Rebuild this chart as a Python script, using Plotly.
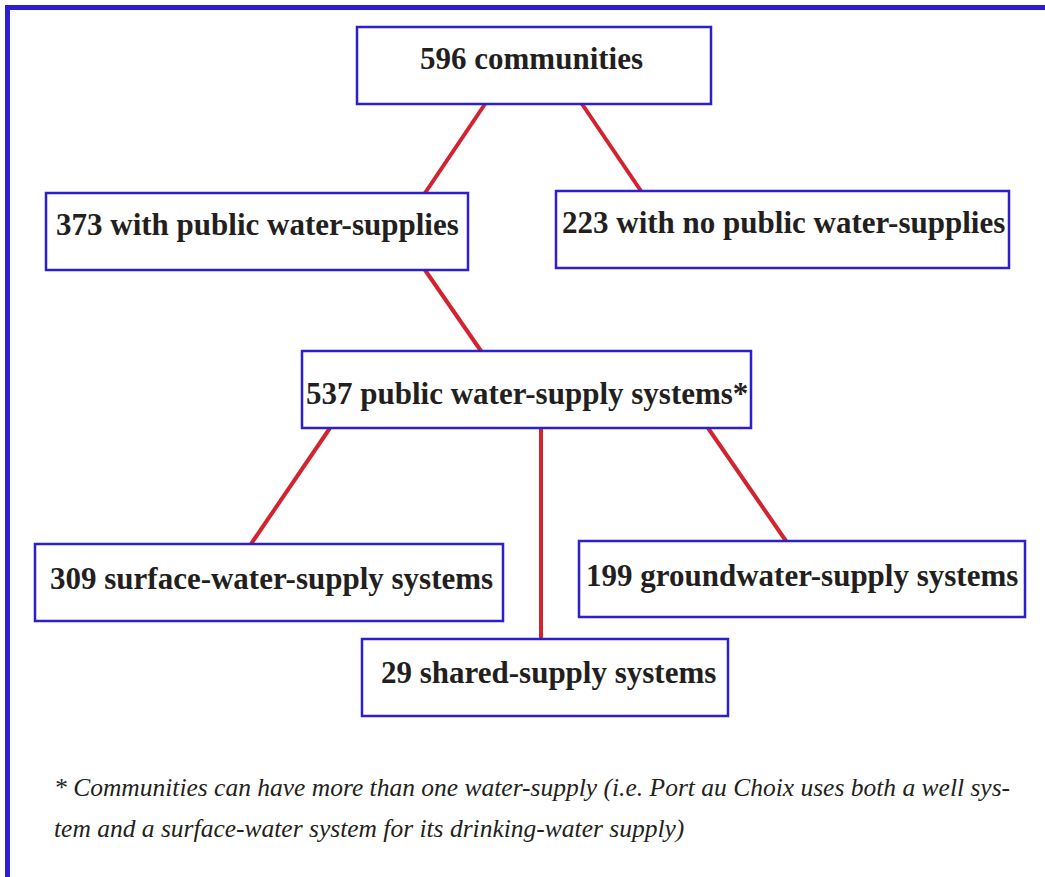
import plotly.graph_objects as go

# ---- data ----
counts = [596, 373, 223, 537, 309, 199, 29]
descriptions = [
    "communities",
    "with public water-supplies",
    "with no public water-supplies",
    "public water-supply systems*",
    "surface-water-supply systems",
    "groundwater-supply systems",
    "shared-supply systems",
]
parents = [None, 0, 0, 1, 3, 3, 3]
footnote_lines = [
    "* Communities can have more than one water-supply (i.e. Port au Choix uses both a well sys-",
    "tem and a surface-water system for its drinking-water supply)",
]

# ---- layout (pixel-like coordinate system) ----
W, H = 1045, 877
boxes = [  # x0, y0, x1, y1
    (357, 27, 711, 104),
    (46, 193, 468, 270),
    (556, 191, 1009, 268),
    (302, 351, 751, 428),
    (35, 544, 503, 621),
    (579, 541, 1025, 617),
    (362, 639, 728, 716),
]
text_y = [58, 224, 222, 393, 578, 575, 672]
text_x = [531, 257, 783, 527, 271, 802, 548]
edges_px = {  # child index: (x at parent bottom, x at child top)
    1: (485, 425),
    2: (582, 641),
    3: (425, 481),
    4: (330, 251),
    5: (708, 786),
    6: (541, 541),
}

BLUE = "#2b1fcf"
RED = "#d2232f"
TEXT = "#231f20"
SERIF = "Liberation Serif, DejaVu Serif, serif"

fig = go.Figure()

# connector lines
for child, p in enumerate(parents):
    if p is None:
        continue
    xp, xc = edges_px[child]
    fig.add_trace(go.Scatter(
        x=[xp, xc], y=[boxes[p][3], boxes[child][1]],
        mode="lines", line=dict(color=RED, width=4),
        hoverinfo="skip", showlegend=False,
    ))

shapes = []
for (x0, y0, x1, y1) in boxes:
    shapes.append(dict(type="rect", x0=x0, y0=y0, x1=x1, y1=y1, xref="x", yref="y",
                       line=dict(color=BLUE, width=2.5), fillcolor="white", layer="above"))
# outer frame (top and left)
shapes.append(dict(type="line", x0=5, x1=W, y0=7.5, y1=7.5, xref="x", yref="y",
                   line=dict(color=BLUE, width=5)))
shapes.append(dict(type="line", x0=7.5, x1=7.5, y0=5, y1=H, xref="x", yref="y",
                   line=dict(color=BLUE, width=5)))

annotations = []
for i, (c, d) in enumerate(zip(counts, descriptions)):
    annotations.append(dict(
        x=text_x[i], y=text_y[i], xref="x", yref="y",
        text=f"<b>{c} {d}</b>", showarrow=False,
        font=dict(family=SERIF, size=31, color=TEXT),
        xanchor="center", yanchor="middle",
    ))
for j, line in enumerate(footnote_lines):
    annotations.append(dict(
        x=52, y=787 + 41 * j, xref="x", yref="y",
        text=f"<i>{line}</i>", showarrow=False,
        font=dict(family=SERIF, size=25.5, color=TEXT),
        xanchor="left", yanchor="middle",
    ))

fig.update_layout(
    width=W, height=H,
    margin=dict(l=0, r=0, t=0, b=0),
    paper_bgcolor="white", plot_bgcolor="white",
    xaxis=dict(range=[0, W], visible=False, fixedrange=True),
    yaxis=dict(range=[H, 0], visible=False, fixedrange=True),
    shapes=shapes, annotations=annotations,
)

fig.write_html("out.html", post_script="document.body.style.margin='0';",
               config={"displayModeBar": False})
